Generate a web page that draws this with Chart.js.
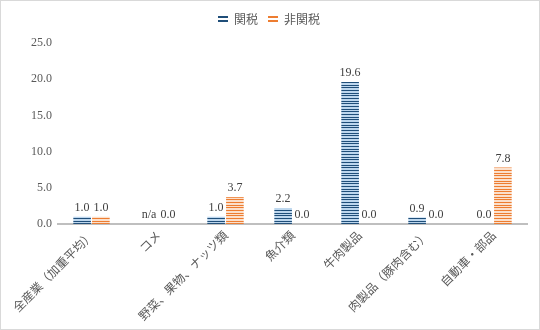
<!DOCTYPE html>
<html><head><meta charset="utf-8">
<script src="https://cdn.jsdelivr.net/npm/chart.js@4/dist/chart.umd.min.js"></script>
<style>
html,body{margin:0;padding:0;background:#fff;}
#wrap{width:538px;height:328px;border:1px solid #d9d9d9;position:relative;}
</style></head>
<body><div id="wrap"><canvas id="c" width="538" height="328"></canvas></div>
<script>
const categories = ['全産業（加重平均）','コメ','野菜、果物、ナッツ類','魚介類','牛肉製品','肉製品（豚肉含む）','自動車・部品'];
const tariff = [1.0, null, 1.0, 2.2, 19.6, 0.9, 0.0];
const nonTariff = [1.0, 0.0, 3.7, 0.0, 0.0, 0.0, 7.8];
const seriesNames = ['関税','非関税'];
const yTicks = [0, 5, 10, 15, 20, 25];

function makePattern(bg, line){
  const c = document.createElement('canvas'); c.width = 4; c.height = 8;
  const x = c.getContext('2d');
  x.fillStyle = bg; x.fillRect(0,0,4,8);
  x.fillStyle = line;
  [1,4,6].forEach(r => x.fillRect(0,r,4,1));
  return document.getElementById('c').getContext('2d').createPattern(c,'repeat');
}
function makeMarker(color){
  const c = document.createElement('canvas'); c.width = 10; c.height = 6;
  const x = c.getContext('2d');
  x.fillStyle = color; x.fillRect(0,0,10,2); x.fillRect(0,4,10,2);
  return c;
}
const bluePat = makePattern('#bdd7ee','#1f4e79');
const orangePat = makePattern('#fbe0cc','#ed7d31');

const labelPlugin = {
  id:'vlabels',
  afterDatasetsDraw(chart){
    const ctx = chart.ctx, ys = chart.scales.y;
    ctx.save();
    ctx.font = '12px "Liberation Serif"';
    ctx.fillStyle = '#404040';
    ctx.textAlign = 'center'; ctx.textBaseline = 'bottom';
    chart.data.datasets.forEach((ds, di) => {
      const meta = chart.getDatasetMeta(di);
      ds.data.forEach((v, i) => {
        const el = meta.data[i];
        const y = ys.getPixelForValue(v == null ? 0 : v);
        const txt = v == null ? 'n/a' : v.toFixed(1);
        ctx.fillText(txt, el.x, y - 3);
      });
    });
    ctx.restore();
  }
};
const legendGap = {
  id:'legendGap',
  beforeInit(chart){
    const fit = chart.legend.fit;
    chart.legend.fit = function(){ fit.bind(chart.legend)(); this.height += 8; };
  }
};

new Chart(document.getElementById('c'), {
  type:'bar',
  data:{
    labels: categories,
    datasets:[
      {label: seriesNames[0], data: tariff, backgroundColor: bluePat, pointStyle: makeMarker('#1f4e79')},
      {label: seriesNames[1], data: nonTariff, backgroundColor: orangePat, pointStyle: makeMarker('#ed7d31')}
    ]
  },
  options:{
    responsive:false, animation:false,
    devicePixelRatio:1,
    categoryPercentage:0.56, barPercentage:0.94,
    layout:{padding:{left:10,right:12,top:2,bottom:2}},
    plugins:{
      legend:{position:'top', labels:{usePointStyle:true, boxWidth:10, boxHeight:6, padding:10, color:'#595959', font:{family:'"Noto Sans CJK JP"', size:12}}},
      tooltip:{enabled:false}
    },
    scales:{
      x:{
        grid:{display:false, drawTicks:false},
        border:{display:true, color:'#bfbfbf', width:2},
        ticks:{minRotation:45, maxRotation:45, color:'#595959', padding:4, font:{family:'"Noto Sans CJK JP"', size:12}}
      },
      y:{
        min:0, max:25,
        afterBuildTicks(s){ s.ticks = yTicks.map(v=>({value:v})); },
        afterFit(s){ s.width = 47; },
        grid:{display:false, drawTicks:false},
        border:{display:false},
        ticks:{color:'#595959', padding:6, font:{family:'"Liberation Serif"', size:12}, callback:v=>v.toFixed(1)}
      }
    }
  },
  plugins:[labelPlugin, legendGap]
});
</script></body></html>
